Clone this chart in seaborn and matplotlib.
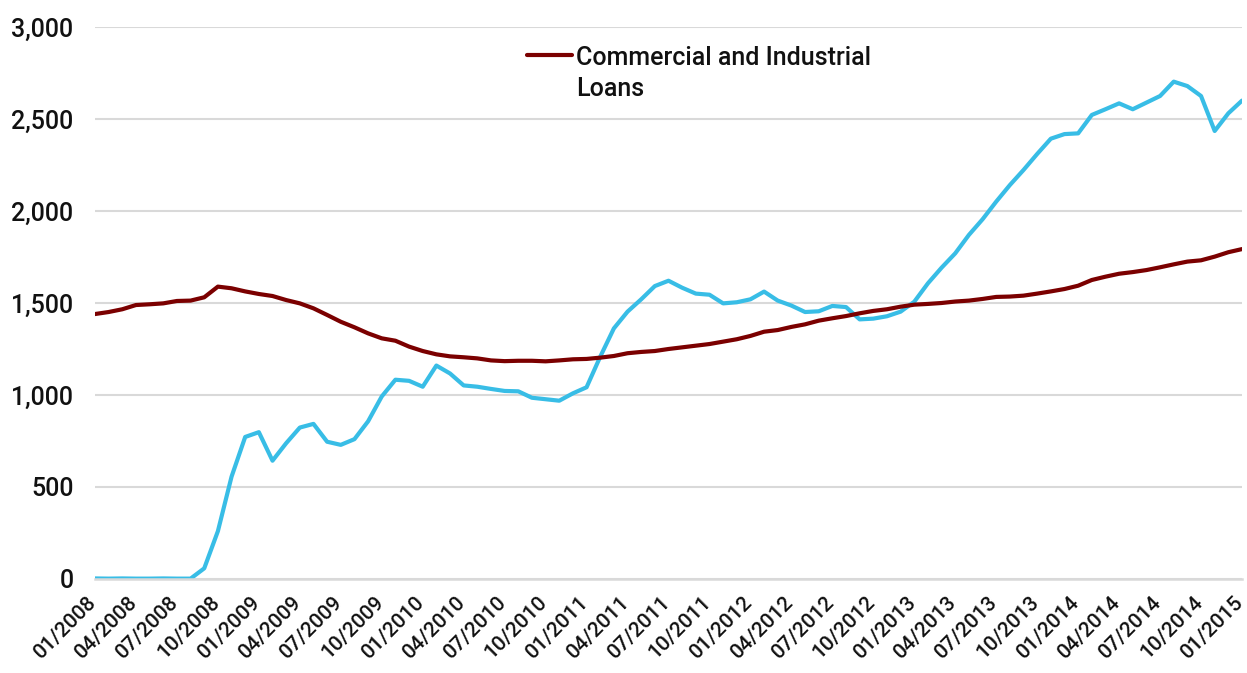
import matplotlib
matplotlib.use("Agg")
import matplotlib.pyplot as plt
import matplotlib.transforms as mtransforms
import seaborn as sns
import pandas as pd
import numpy as np

# ---- data ----
months = pd.date_range("2008-01-01", "2015-01-01", freq="MS").strftime("%m/%Y").tolist()

commercial_industrial_loans = [
    1440, 1451, 1466, 1489, 1493, 1498, 1511, 1513, 1531, 1589, 1580, 1563,
    1549, 1538, 1516, 1498, 1471, 1435, 1398, 1368, 1335, 1308, 1295, 1263,
    1239, 1221, 1210, 1205, 1199, 1188, 1184, 1186, 1186, 1183, 1188, 1194,
    1196, 1203, 1212, 1227, 1234, 1239, 1250, 1259, 1268, 1277, 1290, 1303,
    1321, 1344, 1353, 1370, 1384, 1404, 1417, 1429, 1444, 1457, 1466, 1480,
    1491, 1495, 1500, 1508, 1513, 1522, 1533, 1535, 1540, 1551, 1563, 1576,
    1594, 1625, 1643, 1659, 1668, 1679, 1694, 1710, 1725, 1732, 1752, 1776,
    1793,
]

excess_reserves = [
    3, 2, 3, 2, 2, 3, 2, 2, 58, 260, 556, 772,
    798, 643, 738, 823, 843, 746, 729, 760, 857, 992, 1083, 1077,
    1045, 1160, 1117, 1052, 1045, 1033, 1022, 1020, 985, 977, 969, 1009,
    1042, 1208, 1362, 1453, 1520, 1592, 1621, 1583, 1551, 1545, 1498, 1504,
    1520, 1562, 1513, 1486, 1451, 1455, 1484, 1478, 1411, 1415, 1428, 1453,
    1507, 1607, 1692, 1770, 1870, 1955, 2051, 2141, 2223, 2310, 2393, 2418,
    2422, 2522, 2553, 2585, 2553, 2589, 2625, 2703, 2679, 2625, 2435, 2531,
    2600,
]

tick_labels = months[::3]
y_ticks = [0, 500, 1000, 1500, 2000, 2500, 3000]

# ---- figure ----
sns.set_theme(style="white")
plt.rcParams["font.family"] = ["Roboto", "DejaVu Sans"]
plt.rcParams["font.weight"] = "medium"

df = pd.DataFrame({
    "idx": np.arange(len(months)),
    "month": months,
    "loans": commercial_industrial_loans,
    "reserves": excess_reserves,
})

fig = plt.figure(figsize=(12.47, 6.73), dpi=100)
ax = fig.add_axes([95 / 1247, 1 - 579 / 673, (1242 - 95) / 1247, (579 - 27) / 673])

sns.lineplot(data=df, x="idx", y="reserves", ax=ax, color="#38bde6",
             linewidth=3.0, label="_nolegend_")
sns.lineplot(data=df, x="idx", y="loans", ax=ax, color="#7b0000",
             linewidth=3.0, label="Commercial and Industrial\nLoans")

ax.set_xlim(0, len(months) - 1)
ax.set_ylim(0, 3000)
ax.set_yticks(y_ticks)
ax.set_yticklabels([f"{v:,}" for v in y_ticks])
ax.set_xticks(np.arange(0, len(months), 3))
ax.set_xticklabels(tick_labels, rotation=45, ha="right", rotation_mode="anchor")

ax.set_xlabel("")
ax.set_ylabel("")

grid_c = "#d9d9d9"
ax.yaxis.grid(True, color=grid_c, linewidth=1.5)
ax.xaxis.grid(False)
ax.set_axisbelow(True)
for s in ["top", "right", "left"]:
    ax.spines[s].set_visible(False)
ax.spines["bottom"].set_color(grid_c)
ax.spines["bottom"].set_linewidth(1.8)

ax.tick_params(axis="y", length=0, pad=15.5, labelsize=18, labelcolor="#111111")
ax.tick_params(axis="x", direction="out", length=6, width=1.5, color=grid_c,
               pad=4, labelsize=15, labelcolor="#111111")

# shift the rotated date labels slightly left, as in the reference
offset = mtransforms.ScaledTranslation(-8 / 100, 0, fig.dpi_scale_trans)
for lbl in ax.get_xticklabels():
    lbl.set_transform(lbl.get_transform() + offset)

leg = ax.legend(loc="upper left", bbox_to_anchor=((527 - 95) / 1147, 1 - (46 - 27) / 552),
                frameon=False, fontsize=18, handlelength=1.8, handletextpad=0.15,
                borderaxespad=0, borderpad=0)
for t in leg.get_texts():
    t.set_color("#111111")
    t.set_linespacing(1.35)
# align the handle with the first line of the label
for col in leg._legend_handle_box.get_children():
    for item in col.get_children():
        item.align = "top"

fig.savefig("out.png", dpi=100)
